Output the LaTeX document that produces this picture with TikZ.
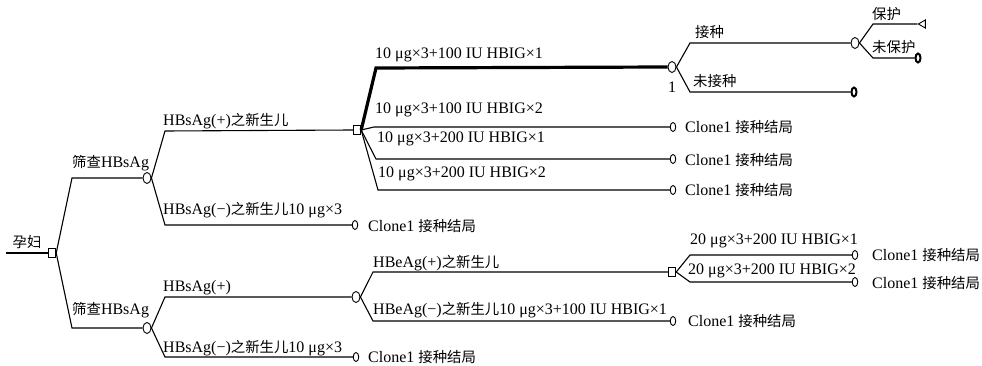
\documentclass[tikz,border=0pt]{standalone}
\usepackage{fontspec}
\setmainfont{Liberation Serif}
\newfontfamily\cjk[Scale=0.9]{Noto Sans CJK SC}
\usetikzlibrary{shapes.geometric}
\begin{document}
\begin{tikzpicture}[x=1pt,y=-1pt,
  dec/.style={draw, rectangle, minimum width=7.5pt, minimum height=9pt, inner sep=0pt, line width=0.9pt},
  chance/.style={draw, ellipse, minimum width=8pt, minimum height=11pt, inner sep=0pt, line width=0.9pt},
  term/.style={draw, ellipse, minimum width=5.5pt, minimum height=9pt, inner sep=0pt, line width=0.9pt},
  bterm/.style={term, line width=2pt, minimum width=5pt},
  tri/.style={draw, isosceles triangle, isosceles triangle apex angle=60, shape border rotate=180, inner sep=0pt, minimum height=7pt, line width=0.9pt},
  lbl/.style={anchor=west, inner sep=0pt, font=\fontsize{16}{18}\selectfont},
  lblc/.style={anchor=center, inner sep=0pt, font=\fontsize{16}{18}\selectfont},
  br/.style={draw, line width=1.1pt},
  thick br/.style={draw, line width=3.2pt}]
\fill[white] (0,0) rectangle (982,366);
\useasboundingbox (0,0) rectangle (982,366);

% ---------- nodes ----------
\coordinate (start) at (6,253);
\node[dec] (r) at (52,253) {};
\node[chance] (c1) at (147,178) {};
\node[chance] (c2) at (147,328) {};
\node[dec] (d1) at (357,130) {};
\node[term] (t1) at (355,225) {};
\node[chance] (c3) at (672,67) {};
\node[term] (t2) at (673,127) {};
\node[term] (t3) at (673,159) {};
\node[term] (t4) at (673,190) {};
\node[chance] (c4) at (855,43) {};
\node[bterm] (t5) at (854,92) {};
\node[tri] (tr) at (923,24) {};
\node[bterm] (t6) at (918,58) {};
\node[chance] (c5) at (356,297) {};
\node[term] (t7) at (356,357) {};
\node[dec] (d2) at (672,272) {};
\node[term] (t8) at (673,321) {};
\node[term] (t9) at (855,255) {};
\node[term] (t10) at (855,282) {};

% bend points
\coordinate (b1) at (72,178);
\coordinate (b2) at (72,328);
\coordinate (b3) at (165,131);
\coordinate (b4) at (165,225);
\coordinate (b5) at (376,68);
\coordinate (b6) at (374,127);
\coordinate (b7) at (376,159);
\coordinate (b8) at (378,190);
\coordinate (b9) at (690,43);
\coordinate (b10) at (690,92);
\coordinate (b11) at (873,24);
\coordinate (b12) at (873,58);
\coordinate (b13) at (165,297);
\coordinate (b14) at (165,357);
\coordinate (b15) at (373,272);
\coordinate (b16) at (373,321);
\coordinate (b17) at (690,255);
\coordinate (b18) at (690,282);

% ---------- connectors ----------
\path[br] (start) -- (r.west);
\path[br] (r.east) -- (b1) -- (c1.west);
\path[br] (r.east) -- (b2) -- (c2.west);
\path[br] (c1.east) -- (b3) -- (d1.west);
\path[br] (c1.east) -- (b4) -- (t1.west);
\path[thick br] (d1.east) -- (b5) -- (c3.west);
\path[br] (d1.east) -- (b6) -- (t2.west);
\path[br] (d1.east) -- (b7) -- (t3.west);
\path[br] (d1.east) -- (b8) -- (t4.west);
\path[br] (c3.east) -- (b9) -- (c4.west);
\path[br] (c3.east) -- (b10) -- (t5.west);
\path[br] (c4.east) -- (b11) -- (tr.apex);
\path[br] (c4.east) -- (b12) -- (t6.west);
\path[br] (c2.east) -- (b13) -- (c5.west);
\path[br] (c2.east) -- (b14) -- (t7.west);
\path[br] (c5.east) -- (b15) -- (d2.west);
\path[br] (c5.east) -- (b16) -- (t8.west);
\path[br] (d2.east) -- (b17) -- (t9.west);
\path[br] (d2.east) -- (b18) -- (t10.west);

% ---------- labels ----------
\node[lblc] (l0) at (27,242) {\cjk 孕妇};
\node[lbl] (l1) at (72,163) {{\cjk 筛查}HBsAg};
\node[lbl] (l2) at (72,310) {{\cjk 筛查}HBsAg};
\node[lbl] (l3) at (163,121) {HBsAg(+){\cjk 之新生儿}};
\node[lbl] (l4) at (163,210) {HBsAg(−){\cjk 之新生儿}10 μg×3};
\node[lbl] (l5) at (163,288) {HBsAg(+)};
\node[lbl] (l6) at (163,348) {HBsAg(−){\cjk 之新生儿}10 μg×3};
\node[lbl] (o1) at (368,226) {Clone1 {\cjk 接种结局}};
\node[lbl] (o2) at (368,357) {Clone1 {\cjk 接种结局}};
\node[lbl] (l7) at (375,55) {10 μg×3+100 IU HBIG×1};
\node[lbl] (l8) at (375,110) {10 μg×3+100 IU HBIG×2};
\node[lbl] (l9) at (377,139) {10 μg×3+200 IU HBIG×1};
\node[lbl] (l10) at (378,174) {10 μg×3+200 IU HBIG×2};
\node[lblc] (one) at (672,87) {1};
\node[lbl] (o3) at (685,127) {Clone1 {\cjk 接种结局}};
\node[lbl] (o4) at (685,160) {Clone1 {\cjk 接种结局}};
\node[lbl] (o5) at (685,190) {Clone1 {\cjk 接种结局}};
\node[lbl] (l11) at (695,32) {\cjk 接种};
\node[lbl] (l12) at (693,81) {\cjk 未接种};
\node[lbl] (l13) at (872,14) {\cjk 保护};
\node[lbl] (l14) at (872,47) {\cjk 未保护};
\node[lbl] (l15) at (373,263) {HBeAg(+){\cjk 之新生儿}};
\node[lbl] (l16) at (373,310) {HBeAg(−){\cjk 之新生儿}10 μg×3+100 IU HBIG×1};
\node[lbl] (o6) at (688,321) {Clone1 {\cjk 接种结局}};
\node[lbl] (l17) at (690,241) {20 μg×3+200 IU HBIG×1};
\node[lbl] (l18) at (688,271) {20 μg×3+200 IU HBIG×2};
\node[lbl] (o7) at (872,255) {Clone1 {\cjk 接种结局}};
\node[lbl] (o8) at (872,283) {Clone1 {\cjk 接种结局}};
\end{tikzpicture}
\end{document}
